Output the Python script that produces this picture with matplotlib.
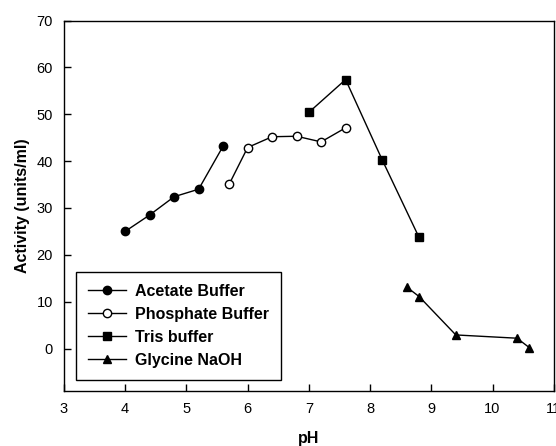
import numpy as np
import matplotlib.pyplot as plt

plt.rcParams['font.family'] = ['Liberation Sans', 'DejaVu Sans']

# pH / activity readings per buffer
ph_acetate = [4.0, 4.4, 4.8, 5.2, 5.6]
act_acetate = [25.0, 28.5, 32.4, 34.0, 43.2]

ph_phosphate = [5.7, 6.0, 6.4, 6.8, 7.2, 7.6]
act_phosphate = [35.1, 42.9, 45.2, 45.3, 44.1, 47.1]

ph_tris = [7.0, 7.6, 8.2, 8.8]
act_tris = [50.4, 57.4, 40.2, 23.7]

ph_glycine = [8.6, 8.8, 9.4, 10.4, 10.6]
act_glycine = [13.1, 11.1, 2.9, 2.2, 0.2]

fig = plt.figure(figsize=(5.56, 4.46), dpi=100)
ax = fig.add_axes([0.115, 0.124, 0.881, 0.830])

kw = dict(color='black', linewidth=1.0, markersize=6)
ax.plot(ph_acetate, act_acetate, marker='o', label='Acetate Buffer', **kw)
ax.plot(ph_phosphate, act_phosphate, marker='o', markerfacecolor='white',
        label='Phosphate Buffer', **kw)
ax.plot(ph_tris, act_tris, marker='s', label='Tris buffer', **kw)
ax.plot(ph_glycine, act_glycine, marker='^', label='Glycine NaOH', **kw)

ax.set_xlim(3, 11)
ax.set_ylim(-9, 70)
ax.set_xticks(range(3, 12))
ax.set_xticklabels(['3', '4', '5', '6', '7', '8', '9', '10', '11'])
ax.set_yticks(range(0, 71, 10))
ax.tick_params(direction='in', length=5, width=1, labelsize=10.5, pad=8)
for s in ax.spines.values():
    s.set_linewidth(1.0)

ax.set_xlabel('pH', fontsize=11.5, fontweight='bold', labelpad=11)
ax.set_ylabel('Activity (units/ml)', fontsize=11.5, fontweight='bold', labelpad=5)

leg = ax.legend(loc='lower left', bbox_to_anchor=(0.024, 0.03),
                prop={'weight': 'bold', 'size': 11.5}, handlelength=2.4,
                fancybox=False, edgecolor='black', framealpha=1,
                borderpad=0.75, labelspacing=0.5, handletextpad=0.55,
                borderaxespad=0)
leg.get_frame().set_linewidth(1.0)

fig.savefig('out.png', dpi=100)
